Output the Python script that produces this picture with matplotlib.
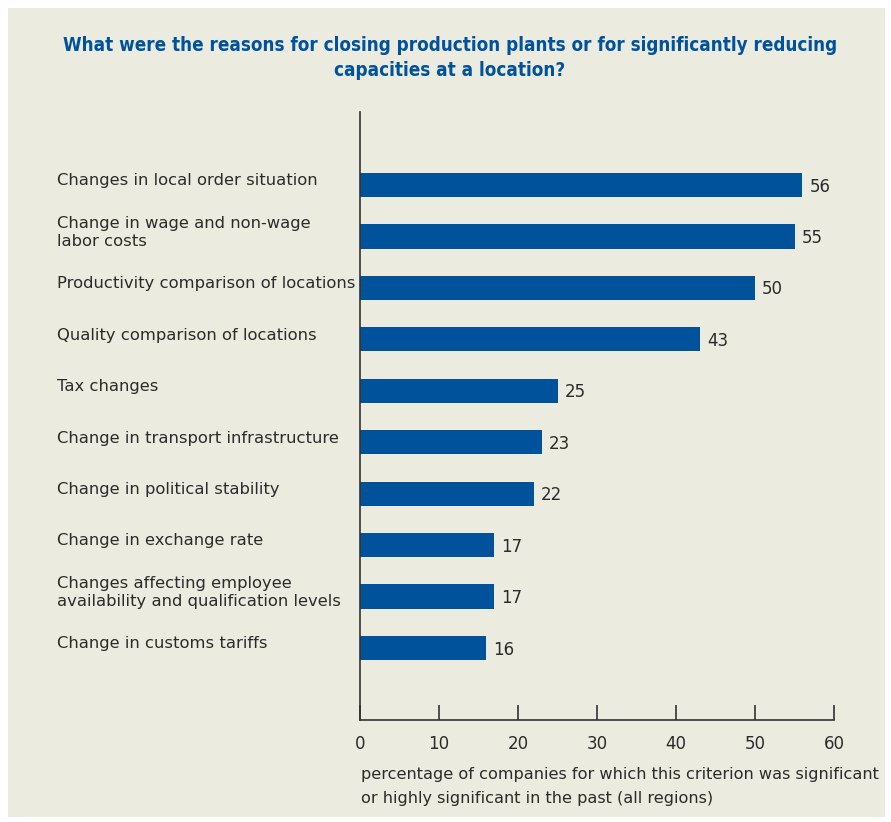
import matplotlib.pyplot as plt
from matplotlib.patches import Rectangle

categories = [
    'Changes in local order situation',
    'Change in wage and non-wage\nlabor costs',
    'Productivity comparison of locations',
    'Quality comparison of locations',
    'Tax changes',
    'Change in transport infrastructure',
    'Change in political stability',
    'Change in exchange rate',
    'Changes affecting employee\navailability and qualification levels',
    'Change in customs tariffs',
]
values = [56, 55, 50, 43, 25, 23, 22, 17, 17, 16]
xticks = [0, 10, 20, 30, 40, 50, 60]

title = ('What were the reasons for closing production plants or for significantly reducing\n'
         'capacities at a location?')
xlabel = ('percentage of companies for which this criterion was significant\n'
          'or highly significant in the past (all regions)')

bg = '#ebebdf'
blue = '#00529b'
textc = '#2b2b2b'

plt.rcParams['font.family'] = ['DejaVu Sans']

fig = plt.figure(figsize=(8.91, 8.22), dpi=100)
fig.patch.set_facecolor('white')
fig.patches.append(Rectangle((8 / 891, 5 / 822), 877 / 891, 809 / 822,
                             transform=fig.transFigure, facecolor=bg,
                             edgecolor='none', zorder=-10))

ax = fig.add_axes([360 / 891, 102 / 822, 474 / 891, 608 / 822])
ax.set_facecolor('none')

ypos = list(range(len(values)))
ax.barh(ypos, values, height=0.47, color=blue, zorder=2)
for y, v in zip(ypos, values):
    ax.text(v + 0.9, y + 0.03, str(v), va='center', ha='left',
            fontsize=12, color=textc)

# category labels sit left of the axis, left aligned
for y, c in zip(ypos, categories):
    ax.text(-38.3, y - 0.08, c, va='center', ha='left', fontsize=11.8,
            color=textc, linespacing=1.3)

ax.set_xlim(0, 60)
ax.set_ylim(10.4, -1.42)
ax.set_xticks(xticks)
ax.set_yticks([])
ax.tick_params(axis='x', direction='in', length=11, width=1.2,
               color='#333333', labelsize=12, labelcolor=textc, pad=11)
for s in ['top', 'right']:
    ax.spines[s].set_visible(False)
for s in ['left', 'bottom']:
    ax.spines[s].set_color('#333333')
    ax.spines[s].set_linewidth(1.2)

fig.text(361 / 891, 1 - 786 / 822, xlabel, ha='left', va='center',
         fontsize=11.6, color=textc, linespacing=1.75)

fig.text(450 / 891, 1 - 58 / 822, title, ha='center', va='center',
         fontsize=13.5, fontweight='bold', fontstretch='condensed',
         color=blue, linespacing=1.45)

fig.savefig('out.png', dpi=100, facecolor=fig.get_facecolor())
